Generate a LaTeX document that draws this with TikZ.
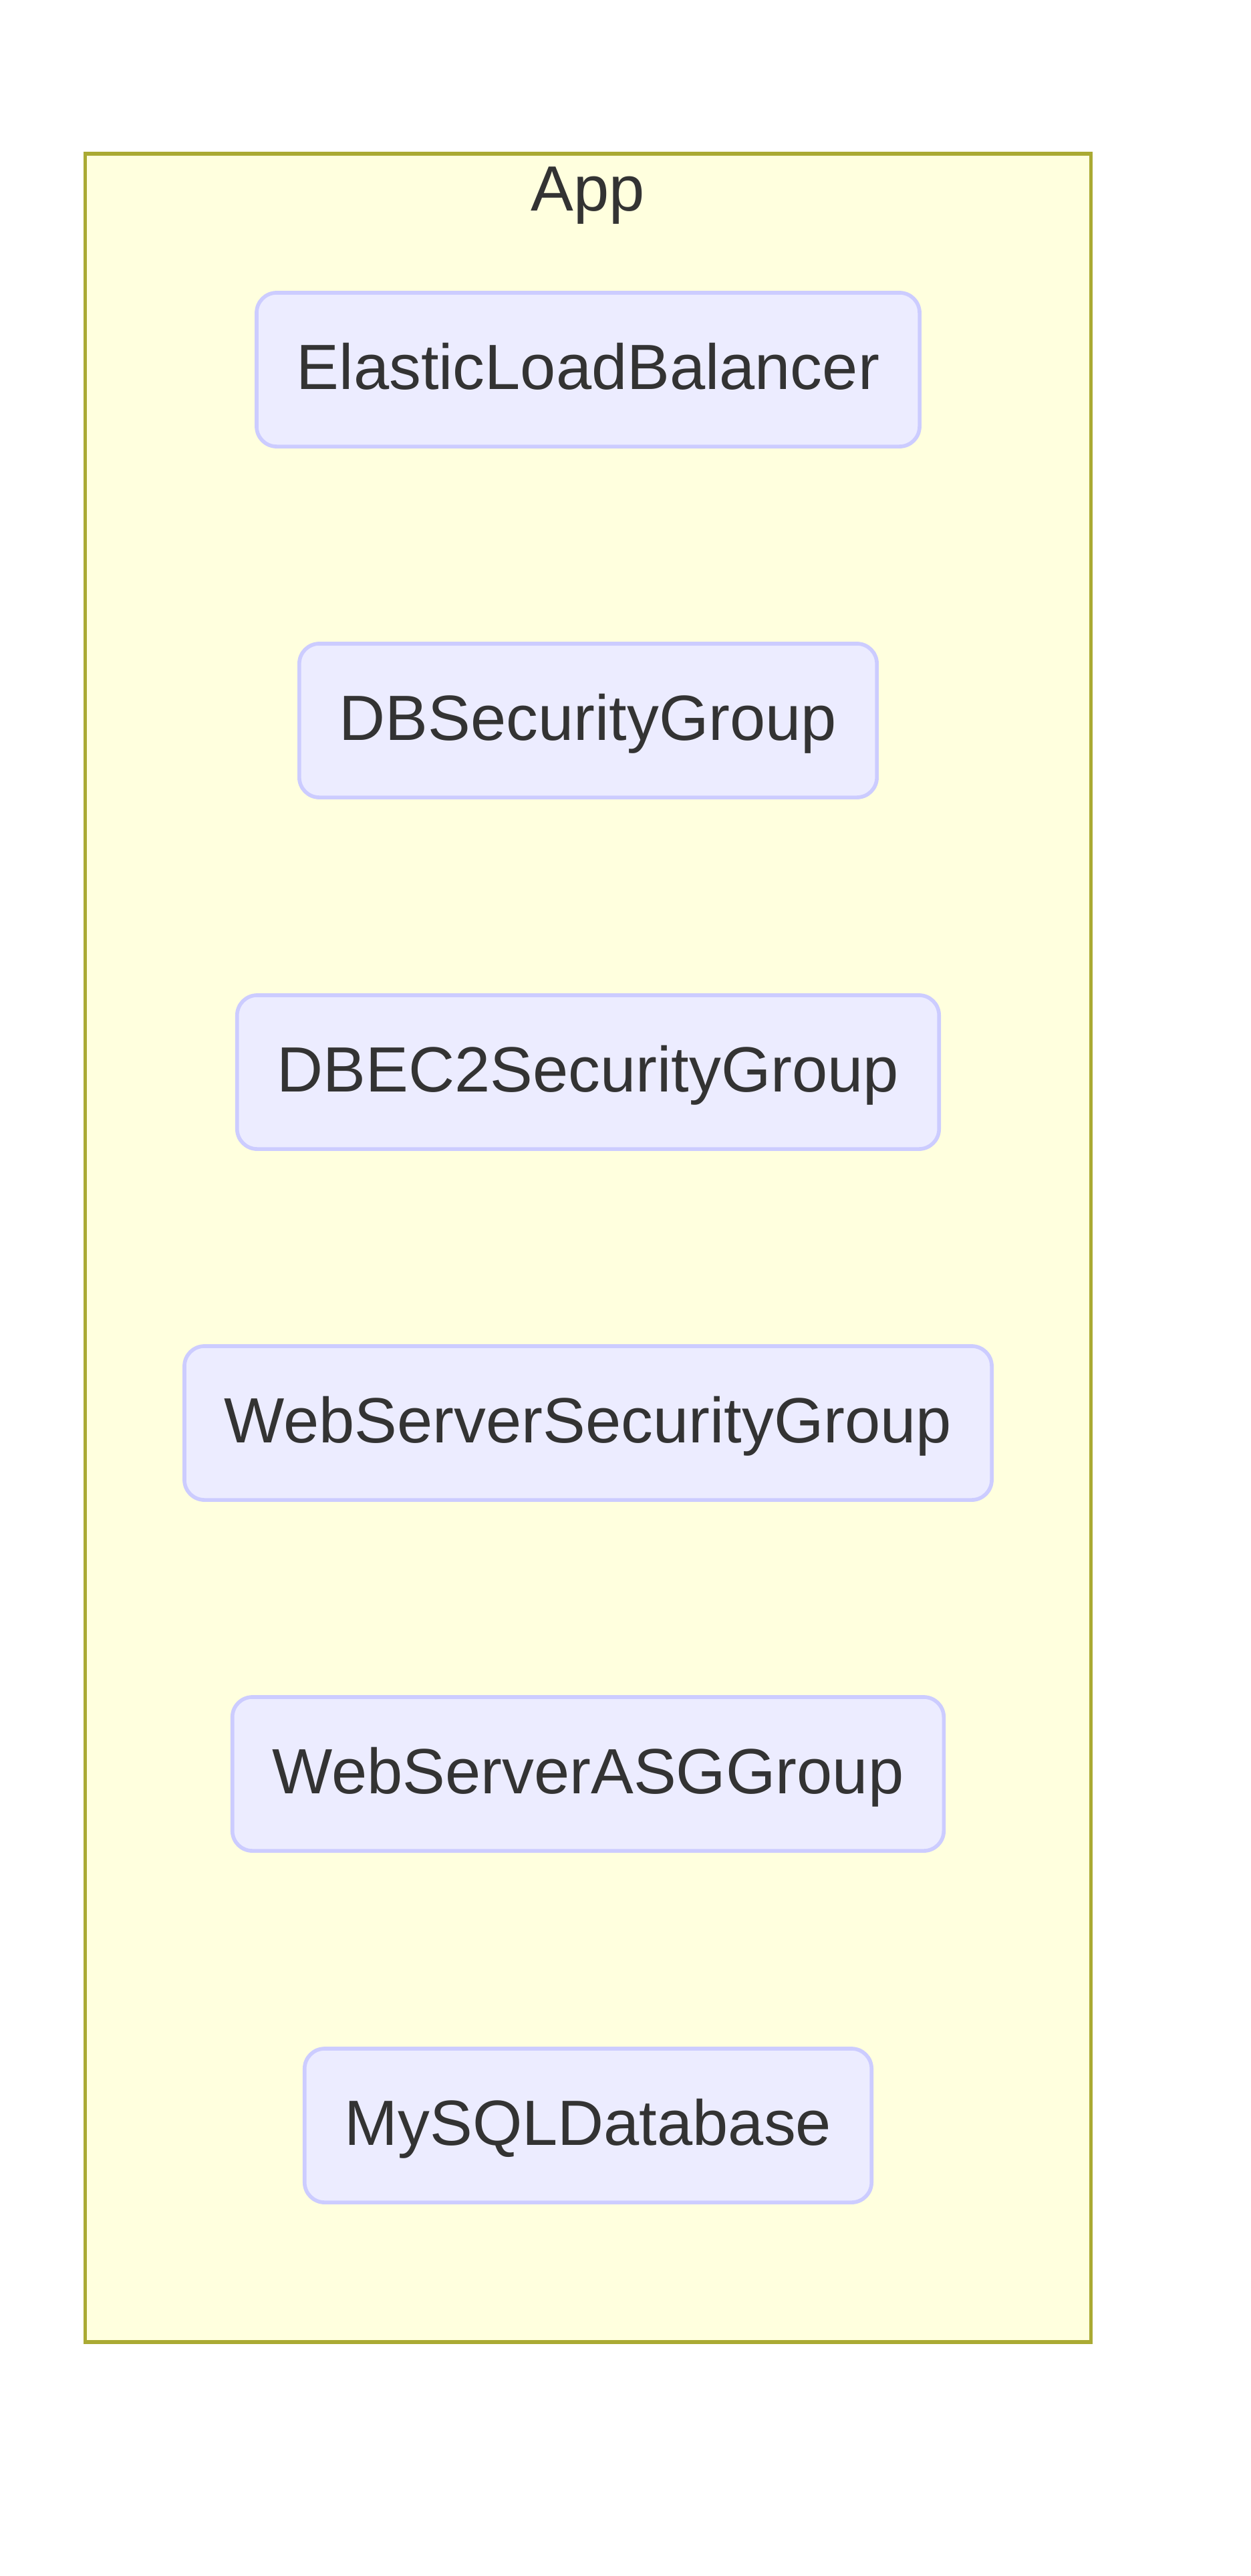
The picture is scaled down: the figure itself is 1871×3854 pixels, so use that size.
\documentclass[tikz,border=0pt]{standalone}
\usepackage{fontspec}
\setmainfont{Liberation Sans}
\usepackage{xcolor}
\definecolor{clusterfill}{HTML}{FFFFDE}
\definecolor{clusterline}{HTML}{AAAA33}
\definecolor{boxfill}{HTML}{ECECFF}
\definecolor{boxline}{HTML}{CCCCFF}
\definecolor{ink}{HTML}{333333}

\begin{document}
\begin{tikzpicture}[x=0.01cm, y=-0.01cm,
    every node/.style={font=\fontsize{27.2}{32}\selectfont, text=ink},
    resource/.style={draw=boxline, fill=boxfill, line width=1.6pt,
      rounded corners=0.3cm, minimum height=2.3cm, inner xsep=0.6cm,
      text height=0.684cm, text depth=0.086cm}]
  \useasboundingbox (0,0) rectangle (1871,3854);
  % the App group holding every resource
  \node[draw=clusterline, fill=clusterfill, line width=1.6pt,
    minimum width=15.04cm, minimum height=32.72cm, inner sep=0pt] (app) at (880,1867) {};
  \node[anchor=base] (applabel) at (880,315) {App};
  \node[resource] (elb)    at (880,553)  {ElasticLoadBalancer};
  \node[resource] (dbsg)   at (880,1078) {DBSecurityGroup};
  \node[resource] (dbec2)  at (880,1604) {DBEC2SecurityGroup};
  \node[resource] (websg)  at (880,2129) {WebServerSecurityGroup};
  \node[resource] (webasg) at (880,2654) {WebServerASGGroup};
  \node[resource] (mysql)  at (880,3180) {MySQLDatabase};
\end{tikzpicture}
\end{document}
